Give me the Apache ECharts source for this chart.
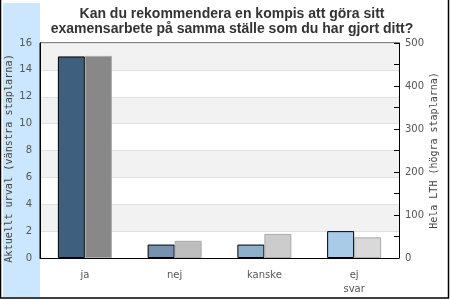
<!DOCTYPE html>
<html><head><meta charset="utf-8">
<script src="https://cdn.jsdelivr.net/npm/echarts@6/dist/echarts.min.js"></script>
<style>html,body{margin:0;padding:0;background:#fff}#c{width:450px;height:300px}</style>
</head><body><div id="c"></div>
<script>
const titleText = "Kan du rekommendera en kompis att göra sitt\nexamensarbete på samma ställe som du har gjort ditt?";
const categories = ["ja", "nej", "kanske", "ej\nsvar"];
const leftValues = [15, 1, 1, 2];
const rightValues = [470, 40, 56, 48];
const leftName = "Aktuellt urval (vänstra staplarna)";
const rightName = "Hela LTH (högra staplarna)";
const leftColors = ["#3e5f7d", "#7593ae", "#8fb0cb", "#a9cbe7"];
const rightColors = ["#888888", "#bebebe", "#cccccc", "#d9d9d9"];

const chart = echarts.init(document.getElementById('c'));
chart.setOption({
  animation: false,
  backgroundColor: '#fff',
  graphic: [
    { type: 'rect', z: -10, shape: { x: 3, y: 3, width: 37, height: 294 }, style: { fill: '#cbe7ff' } },
    { type: 'rect', z: 100, shape: { x: 0.5, y: -2, width: 448, height: 300 }, style: { fill: 'none', stroke: '#000', lineWidth: 1.5 } }
  ],
  title: {
    text: titleText, left: 227, top: 2, textAlign: 'center',
    textStyle: { fontFamily: 'Liberation Sans', fontWeight: 'bold', fontSize: 14, color: '#333', lineHeight: 14.5 }
  },
  grid: { left: 40, right: 51, top: 43, bottom: 42, show: true, borderColor: '#000', borderWidth: 1, backgroundColor: 'transparent', outerBoundsMode: 'none', containLabel: false },
  xAxis: {
    type: 'category', data: categories,
    axisLine: { lineStyle: { color: '#000' } }, axisTick: { show: false },
    axisLabel: { fontFamily: 'DejaVu Sans', fontSize: 10, color: '#555', margin: 10, lineHeight: 14 }
  },
  yAxis: [
    {
      type: 'value', min: 0, max: 16, interval: 2, position: 'left',
      name: leftName, nameLocation: 'middle', nameGap: 26, nameMoveOverlap: false,
      nameTextStyle: { fontFamily: 'DejaVu Sans Mono', fontSize: 10.2, color: '#444', padding: [0, 16, 0, 0] },
      axisLine: { show: true, lineStyle: { color: '#000' } }, axisTick: { show: false },
      axisLabel: { fontFamily: 'DejaVu Sans', fontSize: 10, color: '#555', margin: 8 },
      splitLine: { show: true, lineStyle: { color: '#e0e0e0' } },
      splitArea: { show: true, areaStyle: { color: ['#ffffff', '#f2f2f2'] } }
    },
    {
      type: 'value', min: 0, max: 500, interval: 100, position: 'right',
      name: rightName, nameLocation: 'middle', nameGap: 30, nameMoveOverlap: false,
      nameTextStyle: { fontFamily: 'DejaVu Sans Mono', fontSize: 10, color: '#444' },
      axisLine: { show: true, lineStyle: { color: '#000' } },
      axisTick: { show: true, inside: true, length: 5, lineStyle: { color: '#000' } },
      minorTick: { show: true, splitNumber: 2, length: 5, lineStyle: { color: '#000' } },
      axisLabel: { fontFamily: 'DejaVu Sans', fontSize: 10, color: '#555', margin: 6 },
      splitLine: { show: false }
    }
  ],
  series: [
    {
      type: 'bar', yAxisIndex: 0, barWidth: 27, barGap: 0,
      data: leftValues.map((v, i) => ({ value: v, itemStyle: { color: leftColors[i] } })),
      itemStyle: { borderColor: '#000', borderWidth: 1 }
    },
    {
      type: 'bar', yAxisIndex: 1, barWidth: 27, barGap: 0,
      data: rightValues.map((v, i) => ({ value: v, itemStyle: { color: rightColors[i] } })),
      itemStyle: { borderColor: '#aaaaaa', borderWidth: 1 }
    }
  ]
});
</script></body></html>
